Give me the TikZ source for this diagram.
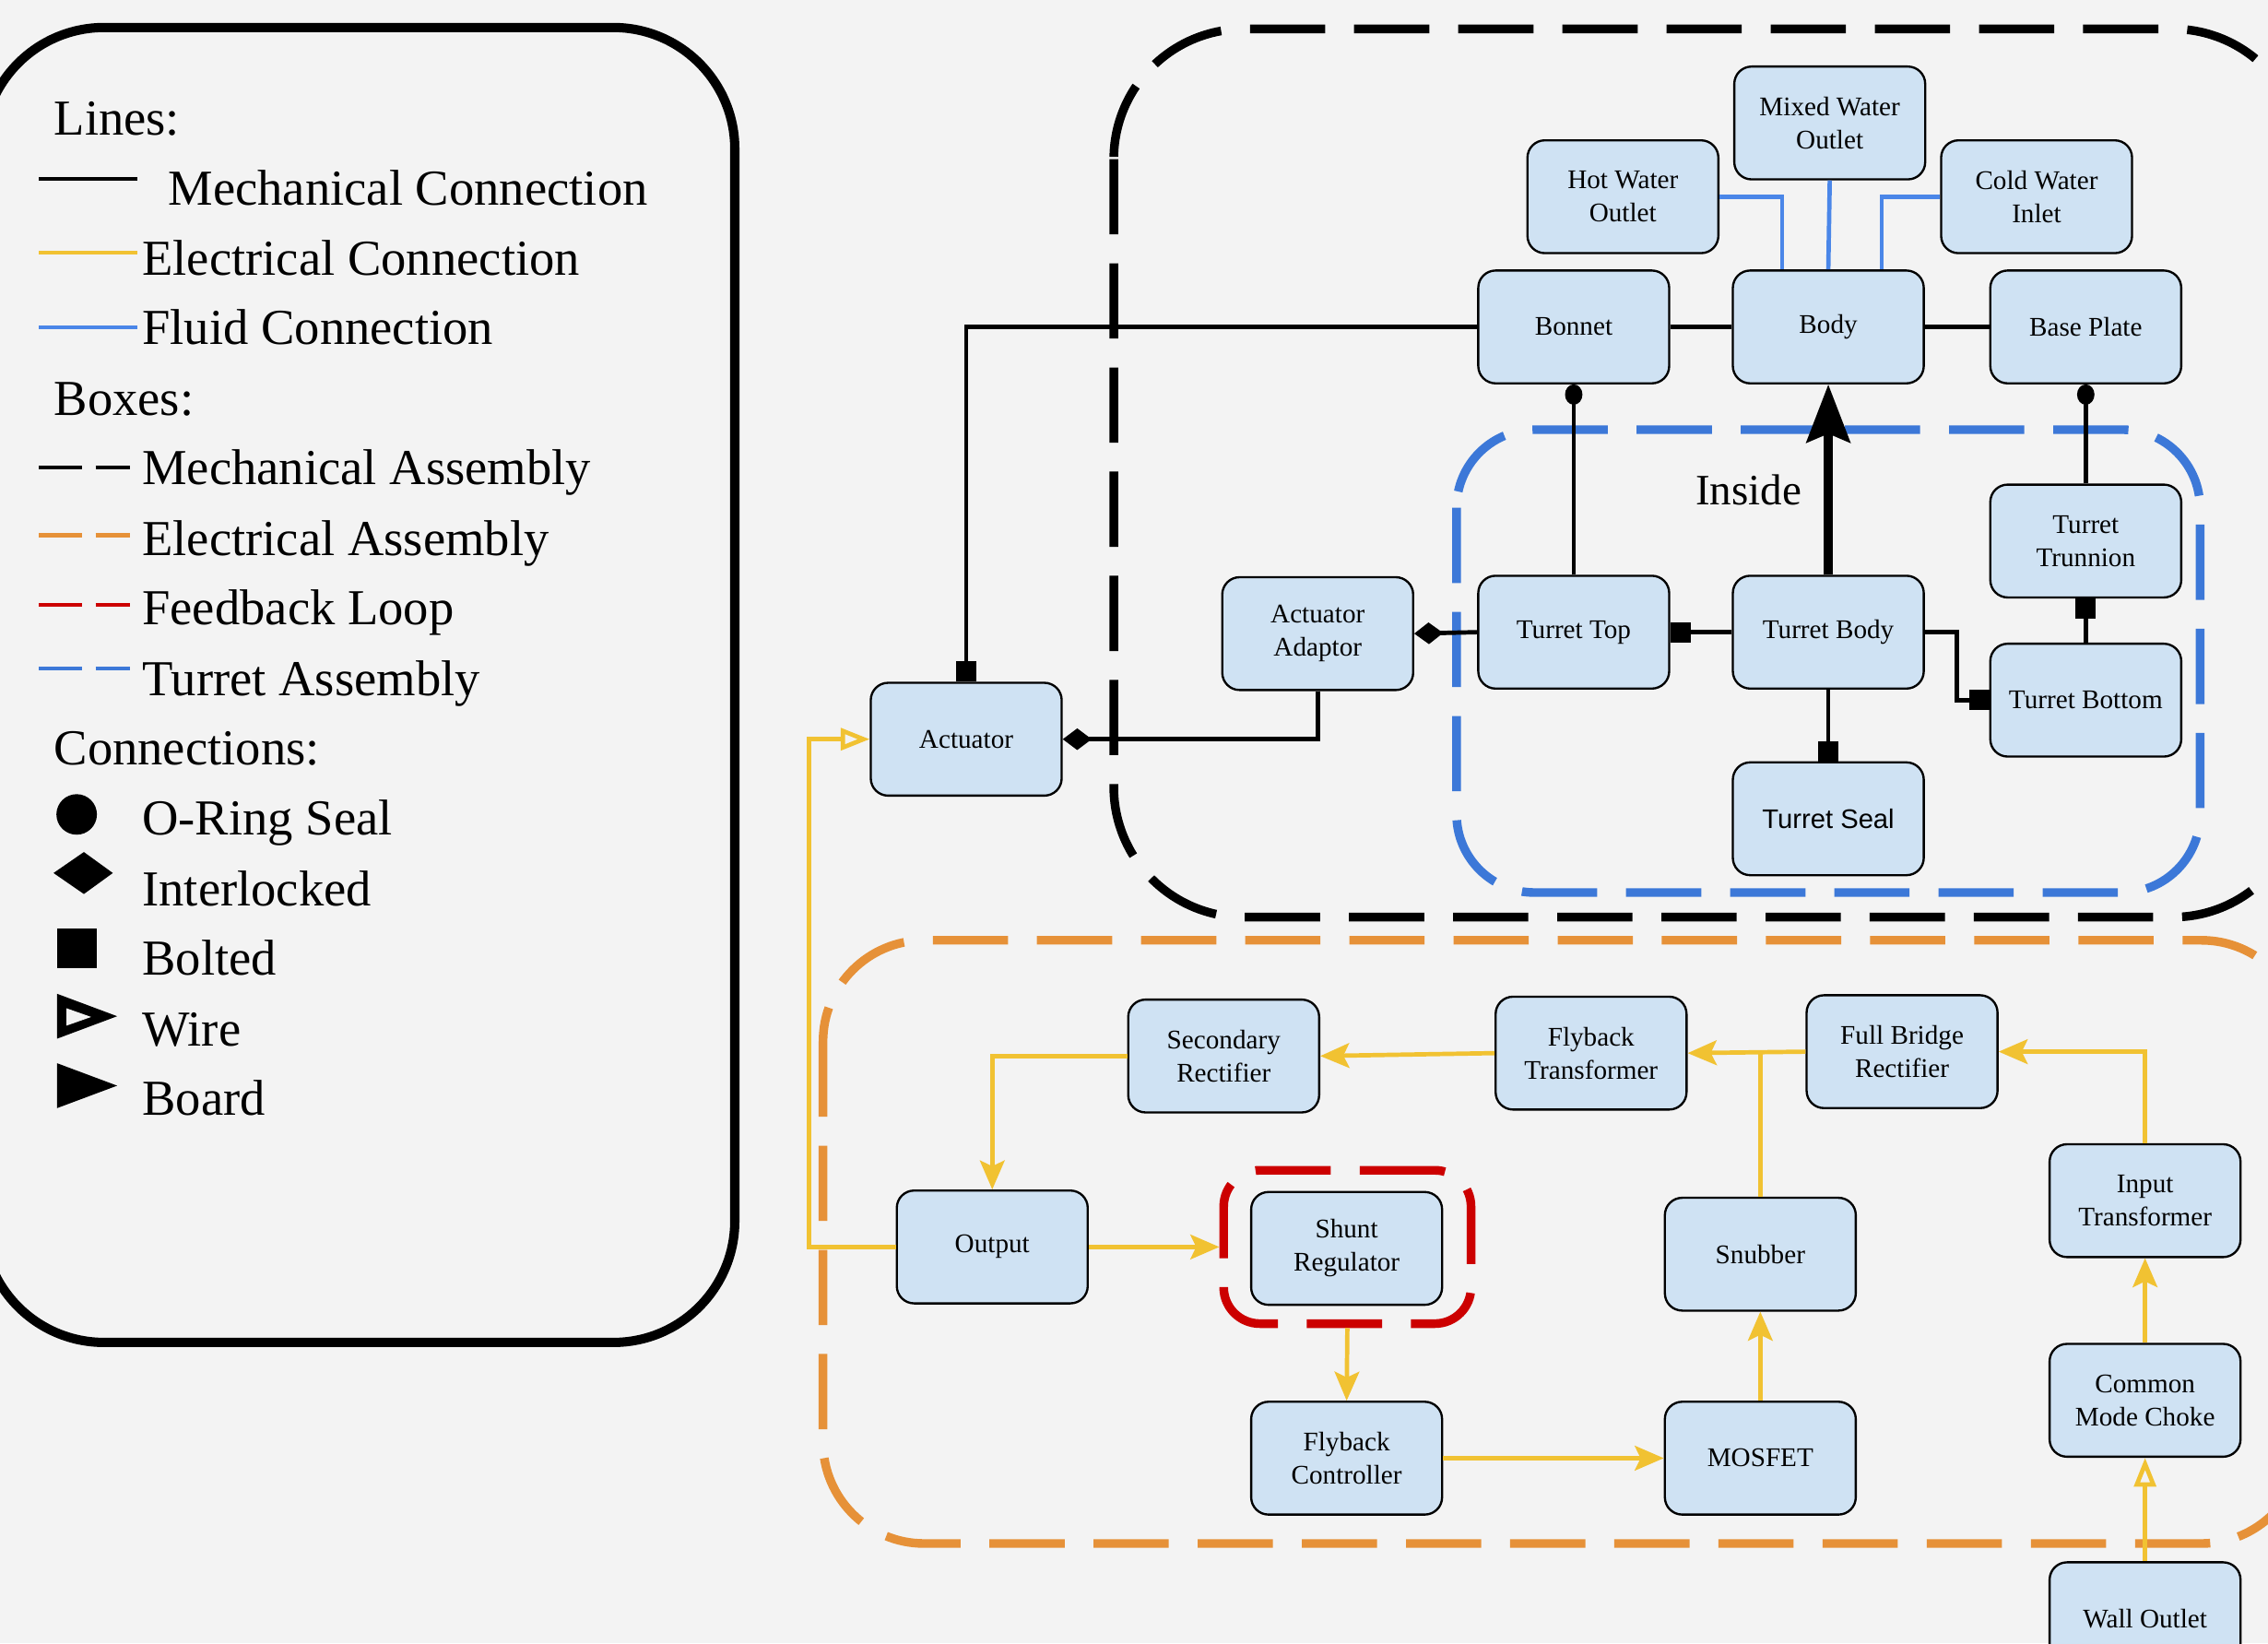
\documentclass[tikz,border=0pt]{standalone}
\usepackage{fontspec}
\setmainfont{Liberation Serif}
\newfontfamily\arialfont{Liberation Sans}
\usetikzlibrary{arrows.meta,calc}
\definecolor{bgc}{RGB}{243,243,243}
\definecolor{boxfill}{RGB}{207,226,243}
\definecolor{elec}{RGB}{241,194,50}
\definecolor{fluid}{RGB}{74,134,232}
\definecolor{turretc}{RGB}{60,120,216}
\definecolor{orangec}{RGB}{230,145,56}
\definecolor{redc}{RGB}{204,0,0}
\tikzset{
  etip/.tip={Stealth[length=10pt,width=8.5pt,inset=2pt]},
  wtip/.tip={Triangle[open,length=10pt,width=7.5pt]},
  btip/.tip={Square[length=7pt,width=7pt]},
  otip/.tip={Circle[length=7pt,width=6pt]},
  itip/.tip={Turned Square[length=10pt,width=7.5pt]},
}
\begin{document}
\begin{tikzpicture}[x=0.5pt,y=-0.5pt,
  blk/.style={draw=black,line width=0.75pt,fill=boxfill,rounded corners=6pt,
    minimum width=66pt,minimum height=39pt,align=center,inner sep=1pt,
    font=\fontsize{9.3}{11.5}\selectfont},
  mech/.style={draw=black,line width=1.5pt},
  elc/.style={draw=elec,line width=1.5pt},
  fl/.style={draw=fluid,line width=1.5pt},
  grp/.style={line width=3pt,dash pattern=on 26pt off 10pt},
  legtxt/.style={anchor=base west,inner sep=0pt,font=\fontsize{17.4}{20}\selectfont},
  legline/.style={line width=1.3pt},
]
\useasboundingbox (0,0) rectangle (1568,1136);
\fill[bgc] (0,0) rectangle (1568,1136);

% ---------- legend ----------
\draw[line width=3.2pt,rounded corners=42pt] (-12,19) rectangle (508,928);
\node[legtxt] (lLines) at (37,93.5) {Lines:};
\draw[legline,black] (27,123.6) -- (95,123.6);
\node[legtxt] (lMech) at (116,142) {Mechanical Connection};
\draw[legline,elec] (27,174.6) -- (95,174.6);
\node[legtxt] (lElec) at (98,190) {Electrical Connection};
\draw[legline,fluid] (27,226) -- (95,226);
\node[legtxt] (lFluid) at (98,238) {Fluid Connection};
\node[legtxt] (lBoxes) at (37,287) {Boxes:};
\draw[legline,black] (27,323) -- (57,323) (66,323) -- (90,323);
\node[legtxt] (lMA) at (98,335) {Mechanical Assembly};
\draw[legline,orangec] (27,370) -- (57,370) (66,370) -- (90,370);
\node[legtxt] (lEA) at (98,384) {Electrical Assembly};
\draw[legline,redc] (27,418) -- (57,418) (66,418) -- (90,418);
\node[legtxt] (lFL) at (98,432) {Feedback Loop};
\draw[legline,turretc] (27,462) -- (57,462) (66,462) -- (90,462);
\node[legtxt] (lTA) at (98,481) {Turret Assembly};
\node[legtxt] (lConn) at (37,529) {Connections:};
\fill (53,563) circle [radius=14];
\node[legtxt] (lOR) at (98,577) {O-Ring Seal};
\fill (37,603.5) -- (58,589) -- (78,603.5) -- (58,618) -- cycle;
\node[legtxt] (lIL) at (98,626) {Interlocked};
\fill (39.5,642) rectangle (67,669);
\node[legtxt] (lBT) at (98,674) {Bolted};
\fill (39.5,687) -- (81,702.5) -- (39.5,718) -- cycle;
\fill[bgc] (46,697) -- (63,703) -- (46,709) -- cycle;
\node[legtxt] (lW) at (98,723) {Wire};
\fill (39.5,735) -- (81,750.5) -- (39.5,766) -- cycle;
\node[legtxt] (lB) at (98,771) {Board};

% ---------- group boxes ----------
\draw[grp,black,rounded corners=45pt] (770,20) rectangle (1592,634);
\draw[grp,turretc,rounded corners=27pt] (1007,297) rectangle (1521,617);
\draw[grp,orangec,rounded corners=35pt] (569,650) rectangle (1592,1067);
\node[grp,draw=redc,rounded corners=12.5pt,minimum width=85.5pt,minimum height=53pt,inner sep=0pt] (fb) at (931.5,862) {};
\node[inner sep=0pt,font=\fontsize{15}{18}\selectfont] (inside) at (1209,339) {Inside};

% ---------- nodes ----------
\node[blk] (mixed) at (1265,85) {Mixed Water\\Outlet};
\node[blk] (hot) at (1122,136) {Hot Water\\Outlet};
\node[blk] (cold) at (1408,136) {Cold Water\\Inlet};
\node[blk] (bonnet) at (1088,226) {Bonnet};
\node[blk] (body) at (1264,226) {Body};
\node[blk] (base) at (1442,226) {Base Plate};
\node[blk] (trunnion) at (1442,374) {Turret\\Trunnion};
\node[blk] (ttop) at (1088,437) {Turret Top};
\node[blk] (tbody) at (1264,437) {Turret Body};
\node[blk] (tbottom) at (1442,484) {Turret Bottom};
\node[blk,font=\arialfont\fontsize{9.3}{11.5}\selectfont] (tseal) at (1264,566) {Turret Seal};
\node[blk] (adaptor) at (911,438) {Actuator\\Adaptor};
\node[blk] (actuator) at (668,511) {Actuator};
\node[blk] (secrect) at (846,730) {Secondary\\Rectifier};
\node[blk] (fbt) at (1100,728) {Flyback\\Transformer};
\node[blk] (fbr) at (1315,727) {Full Bridge\\Rectifier};
\node[blk] (inputtr) at (1483,830) {Input\\Transformer};
\node[blk] (output) at (686,862) {Output};
\node[blk] (shunt) at (931,863) {Shunt\\Regulator};
\node[blk] (snubber) at (1217,867) {Snubber};
\node[blk] (cmc) at (1483,968) {Common\\Mode Choke};
\node[blk] (fbc) at (931,1008) {Flyback\\Controller};
\node[blk] (mosfet) at (1217,1008) {MOSFET};
\node[blk] (wall) at (1483,1119) {Wall Outlet};

% ---------- mechanical ----------
\draw[mech,-btip] (bonnet.west) -| (actuator.north);
\draw[mech] (bonnet.east) -- (body.west);
\draw[mech] (body.east) -- (base.west);
\draw[mech,-otip] (ttop.north) -- (bonnet.south);
\draw[mech,-otip] (trunnion.north) -- (base.south);
\draw[line width=3pt,-{Stealth[length=20pt,width=15pt,inset=3pt]}] (tbody.north) -- (body.south);
\draw[mech,-btip] (tbody.west) -- (ttop.east);
\draw[mech,-btip] (tbody.east) -| ($(tbody.east)!0.5!(tbottom.west)$) |- (tbottom.west);
\draw[mech,-btip] (tbottom.north) -- (trunnion.south);
\draw[mech,-btip] (tbody.south) -- (tseal.north);
\draw[mech,-itip] (ttop.west) -- (adaptor.east);
\draw[mech,-itip] (adaptor.south) |- (actuator.east);

% ---------- fluid ----------
\draw[fl] (hot.east) -| ([xshift=-16pt]body.north);
\draw[fl] (mixed.south) -- (body.north);
\draw[fl] (cold.west) -| ([xshift=18.5pt]body.north);

% ---------- electrical ----------
\draw[elc,-etip] (fbr.west) -- (fbt.east);
\draw[elc] (snubber.north) -- (snubber.north |- fbr.west);
\draw[elc,-etip] (fbt.west) -- (secrect.east);
\draw[elc,-etip] (secrect.west) -| (output.north);
\draw[elc,-etip] (output.east) -- (fb.west);
\draw[elc,-etip] (fb.south) -- (fbc.north);
\draw[elc,-etip] (fbc.east) -- (mosfet.west);
\draw[elc,-etip] (mosfet.north) -- (snubber.south);
\draw[elc,-etip] (inputtr.north) |- (fbr.east);
\draw[elc,-etip] (cmc.north) -- (inputtr.south);
\draw[elc,-wtip] (wall.north) -- (cmc.south);
\draw[elc,-wtip] (output.west) -- ++(-60,0) |- (actuator.west);
\end{tikzpicture}
\end{document}
